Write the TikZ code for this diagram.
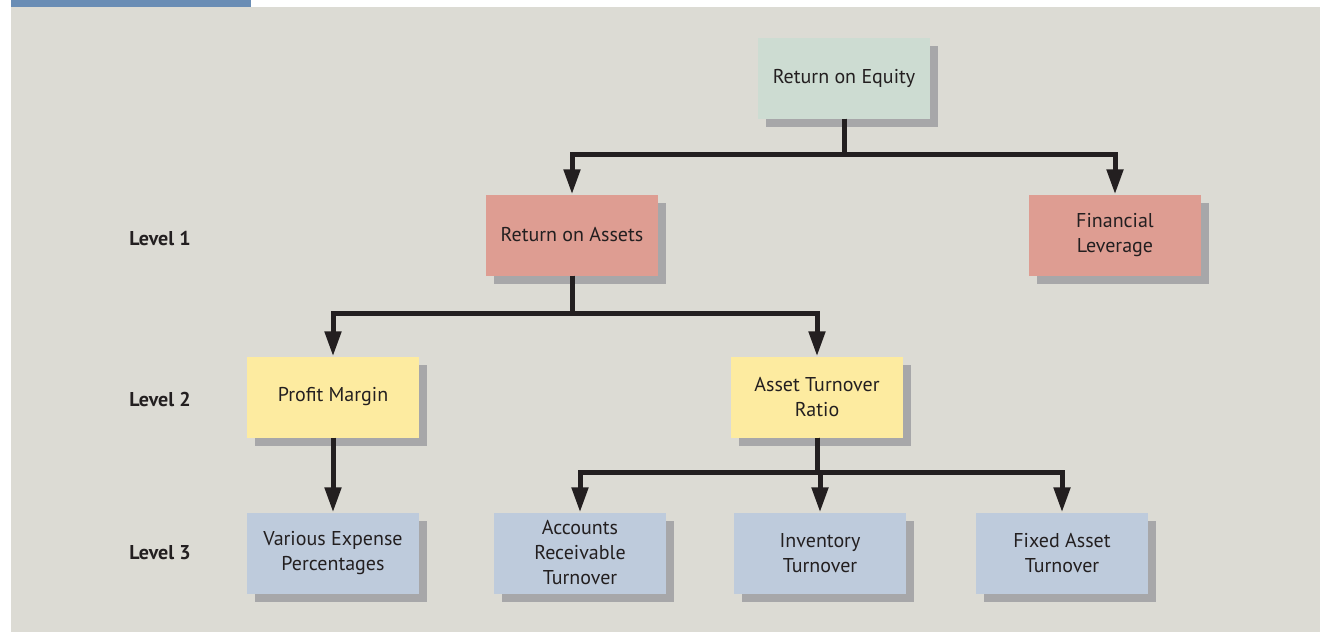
\documentclass[tikz,border=0pt]{standalone}
\usepackage{fontspec}
\setmainfont{PT Sans}
\usetikzlibrary{arrows.meta, shadows}
\definecolor{panel}{HTML}{DCDBD4}
\definecolor{topbar}{HTML}{6A8DB5}
\definecolor{shade}{HTML}{A7A7A9}
\definecolor{roefill}{HTML}{CDDCD2}
\definecolor{redfill}{HTML}{DE9D92}
\definecolor{yelfill}{HTML}{FDEBA0}
\definecolor{bluefill}{HTML}{BECBDC}
\definecolor{ink}{HTML}{231F20}

\begin{document}
\begin{tikzpicture}[
  x=1pt, y=-1pt,
  every node/.style = {font=\fontsize{20}{25}\selectfont, text=ink},
  box/.style = {align=center, minimum width=172pt, minimum height=81pt, inner sep=2pt,
    general shadow={fill=shade, shadow xshift=8pt, shadow yshift=-8pt}},
  top/.style = {box, fill=roefill},
  lvone/.style = {box, fill=redfill},
  lvtwo/.style = {box, fill=yelfill},
  lvthree/.style = {box, fill=bluefill},
  level/.style = {font=\bfseries\fontsize{20}{25}\selectfont},
  link/.style = {draw=ink, line width=5pt, -{Triangle[length=25pt, width=16pt]}}
]
  \useasboundingbox (0,0) rectangle (1320,632);
  \fill[panel] (11,7) rectangle (1320,632);
  \fill[topbar] (11,0) rectangle (251,7);

  \node[top] (roe) at (844,78) {Return on Equity};

  \node[lvone] (roa) at (572,235) {Return on Assets};
  \node[lvone] (fl) at (1115,235) {Financial\\Leverage};

  \node[lvtwo] (pm) at (333,397) {Profit Margin};
  \node[lvtwo] (atr) at (817,397) {Asset Turnover\\Ratio};

  \node[lvthree] (vep) at (333,553) {Various Expense\\Percentages};
  \node[lvthree] (art) at (580,553) {Accounts\\Receivable\\Turnover};
  \node[lvthree] (it) at (820,553) {Inventory\\Turnover};
  \node[lvthree] (fat) at (1062,553) {Fixed Asset\\Turnover};

  \node[level] (l1) at (160,239) {Level 1};
  \node[level] (l2) at (160,399) {Level 2};
  \node[level] (l3) at (160,553) {Level 3};

  \draw[link] (roe.south) -- ++(0,36) -| (roa.north);
  \draw[link] (roe.south) -- ++(0,36) -| (fl.north);
  \draw[link] (roa.south) -- ++(0,38) -| (pm.north);
  \draw[link] (roa.south) -- ++(0,38) -| (atr.north);
  \draw[link] (pm.south) -- (vep.north);
  \draw[link] (atr.south) -- ++(0,35) -| (art.north);
  \draw[link] (atr.south) -- ++(0,35) -| (it.north);
  \draw[link] (atr.south) -- ++(0,35) -| (fat.north);
\end{tikzpicture}
\end{document}
